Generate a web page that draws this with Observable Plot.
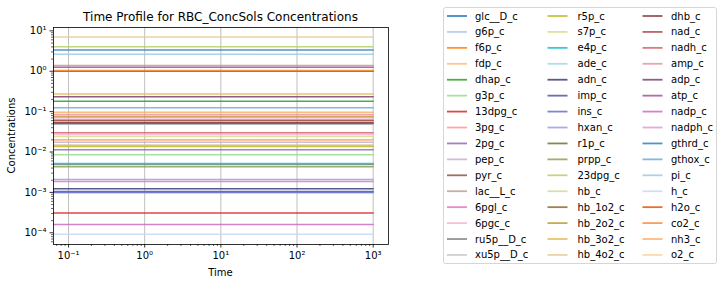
<!DOCTYPE html>
<html>
<head>
<meta charset="utf-8">
<script src="https://cdn.jsdelivr.net/npm/d3@7"></script>
<script src="https://cdn.jsdelivr.net/npm/@observablehq/plot@0.6"></script>
<style>
html,body{margin:0;padding:0;background:#fff;}
#chart{width:724px;height:286px;}
svg{font-family:"DejaVu Sans",sans-serif;}
</style>
</head>
<body>
<div id="chart"></div>
<script>
// ---- data ----
const species = [
  "glc__D_c","g6p_c","f6p_c","fdp_c","dhap_c","g3p_c","13dpg_c","3pg_c","2pg_c","pep_c",
  "pyr_c","lac__L_c","6pgl_c","6pgc_c","ru5p__D_c","xu5p__D_c",
  "r5p_c","s7p_c","e4p_c","ade_c","adn_c","imp_c","ins_c","hxan_c","r1p_c","prpp_c",
  "23dpg_c","hb_c","hb_1o2_c","hb_2o2_c","hb_3o2_c","hb_4o2_c",
  "dhb_c","nad_c","nadh_c","amp_c","adp_c","atp_c","nadp_c","nadph_c","gthrd_c","gthox_c",
  "pi_c","h_c","h2o_c","co2_c","nh3_c","o2_c"
];
const concentrations = [
  1.0, 0.049, 0.0198, 0.0147, 0.18, 0.0085, 0.00031, 0.077, 0.0113, 0.0175,
  0.061, 1.38, 0.00185, 0.027, 0.0049, 0.0147,
  0.0136, 0.0242, 0.0052, 0.001, 0.00123, 0.00105, 0.001, 0.0021, 0.06, 0.0043,
  4.05, 0.06, 0.051, 0.074, 0.275, 7.05,
  0.053, 0.06, 0.030, 0.085, 0.232, 1.26, 0.00016, 0.065, 3.35, 0.124,
  2.62, 0.000092, 1.0, 1.05, 0.097, 0.0193
];
const palette = [
  "#1f77b4","#aec7e8","#ff7f0e","#ffbb78","#2ca02c","#98df8a","#d62728","#ff9896","#9467bd","#c5b0d5",
  "#8c564b","#c49c94","#e377c2","#f7b6d2","#7f7f7f","#c7c7c7","#bcbd22","#dbdb8d","#17becf","#9edae5",
  "#393b79","#5254a3","#6b6ecf","#9c9ede","#637939","#8ca252","#b5cf6b","#cedb9c","#8c6d31","#bd9e39",
  "#e7ba52","#e7cb94","#843c39","#ad494a","#d6616b","#e7969c","#7b4173","#a55194","#ce6dbd","#de9ed6",
  "#3182bd","#6baed6","#9ecae1","#c6dbef","#e6550d","#fd8d3c","#fdae6b","#fdd0a2"
];
const times = [0.01, 1000];
const xTicks = [0.1, 1, 10, 100, 1000];
const xTickLabels = ["10\u207B\u00B9","10\u2070","10\u00B9","10\u00B2","10\u00B3"];
const yTicks = [1e-4, 1e-3, 1e-2, 1e-1, 1, 10];
const yTickLabels = ["10\u207B\u2074","10\u207B\u00B3","10\u207B\u00B2","10\u207B\u00B9","10\u2070","10\u00B9"];
const titleText = "Time Profile for RBC_ConcSols Concentrations";
const xLabel = "Time";
const yLabel = "Concentrations";

// ---- build ----
const rows = [];
species.forEach((s, i) => times.forEach(t => rows.push({name: s, t, v: concentrations[i]})));

function minors(lo, hi) {
  const out = [];
  for (let e = Math.floor(Math.log10(lo)); e <= Math.ceil(Math.log10(hi)); e++)
    for (let m = 2; m <= 9; m++) { const v = m * Math.pow(10, e); if (v >= lo && v <= hi) out.push(v); }
  return out;
}
const xDom = [0.0635, 1589];
const yDom = [5.13e-5, 12.1];
const xFmt = d => xTickLabels[xTicks.findIndex(t => Math.abs(t - d) / t < 1e-6)];
const yFmt = d => yTickLabels[yTicks.findIndex(t => Math.abs(t - d) / t < 1e-6)];

const chart = Plot.plot({
  width: 724, height: 286,
  marginLeft: 53, marginRight: 336, marginTop: 27, marginBottom: 42,
  style: {fontFamily: "DejaVu Sans, sans-serif", fontSize: "10px", color: "#000", background: "#fff"},
  x: {type: "log", domain: xDom},
  y: {type: "log", domain: yDom},
  color: {domain: species, range: palette},
  marks: [
    Plot.gridX(xTicks, {stroke: "#b0b0b0", strokeOpacity: 1, strokeWidth: 0.8}),
    Plot.line(rows, {x: "t", y: "v", z: "name", stroke: "name", strokeWidth: 1.5, strokeOpacity: 0.85, clip: true}),
    Plot.frame({stroke: "#000", strokeWidth: 0.8}),
    Plot.axisX(minors(xDom[0], xDom[1]), {tickSize: 2, tickFormat: () => "", strokeWidth: 0.6, label: null}),
    Plot.axisX(xTicks, {tickSize: 3.5, tickPadding: 3.5, tickFormat: xFmt, strokeWidth: 0.8, label: null, fontSize: 10}),
    Plot.axisY(minors(yDom[0], yDom[1]), {tickSize: 2, tickFormat: () => "", strokeWidth: 0.6, label: null}),
    Plot.axisY(yTicks, {tickSize: 3.5, tickPadding: 3.5, tickFormat: yFmt, strokeWidth: 0.8, label: null, fontSize: 10})
  ]
});
document.getElementById("chart").appendChild(chart);

const svg = d3.select(chart);
svg.append("text").attr("x", 220.5).attr("y", 21).attr("text-anchor", "middle")
  .attr("font-size", 12).attr("fill", "#000").text(titleText);
svg.append("text").attr("x", 220.5).attr("y", 276).attr("text-anchor", "middle")
  .attr("font-size", 10).attr("fill", "#000").text(xLabel);
svg.append("text").attr("transform", "translate(15,135.5) rotate(-90)").attr("text-anchor", "middle")
  .attr("font-size", 10).attr("fill", "#000").text(yLabel);

// legend
const nRows = 16;
const lg = svg.append("g").attr("text-anchor", "start");
lg.append("rect").attr("x", 443.5).attr("y", 7.5).attr("width", 273).attr("height", 256).attr("rx", 2)
  .attr("fill", "#fff").attr("fill-opacity", 0.8).attr("stroke", "#cccccc").attr("stroke-width", 0.8);
const colLineX = [447, 547.5, 642.5];
const colTextX = [475, 577.5, 671];
species.forEach((s, i) => {
  const c = Math.floor(i / nRows), r = i % nRows;
  const y = 16 + r * 15.93;
  lg.append("line").attr("x1", colLineX[c]).attr("x2", colLineX[c] + 20).attr("y1", y).attr("y2", y)
    .attr("stroke", palette[i]).attr("stroke-width", 1.8).attr("stroke-opacity", 0.85);
  lg.append("text").attr("x", colTextX[c]).attr("y", y).attr("dy", "0.35em").attr("text-anchor", "start")
    .attr("font-size", 10).attr("fill", "#000").text(s);
});
</script>
</body>
</html>
